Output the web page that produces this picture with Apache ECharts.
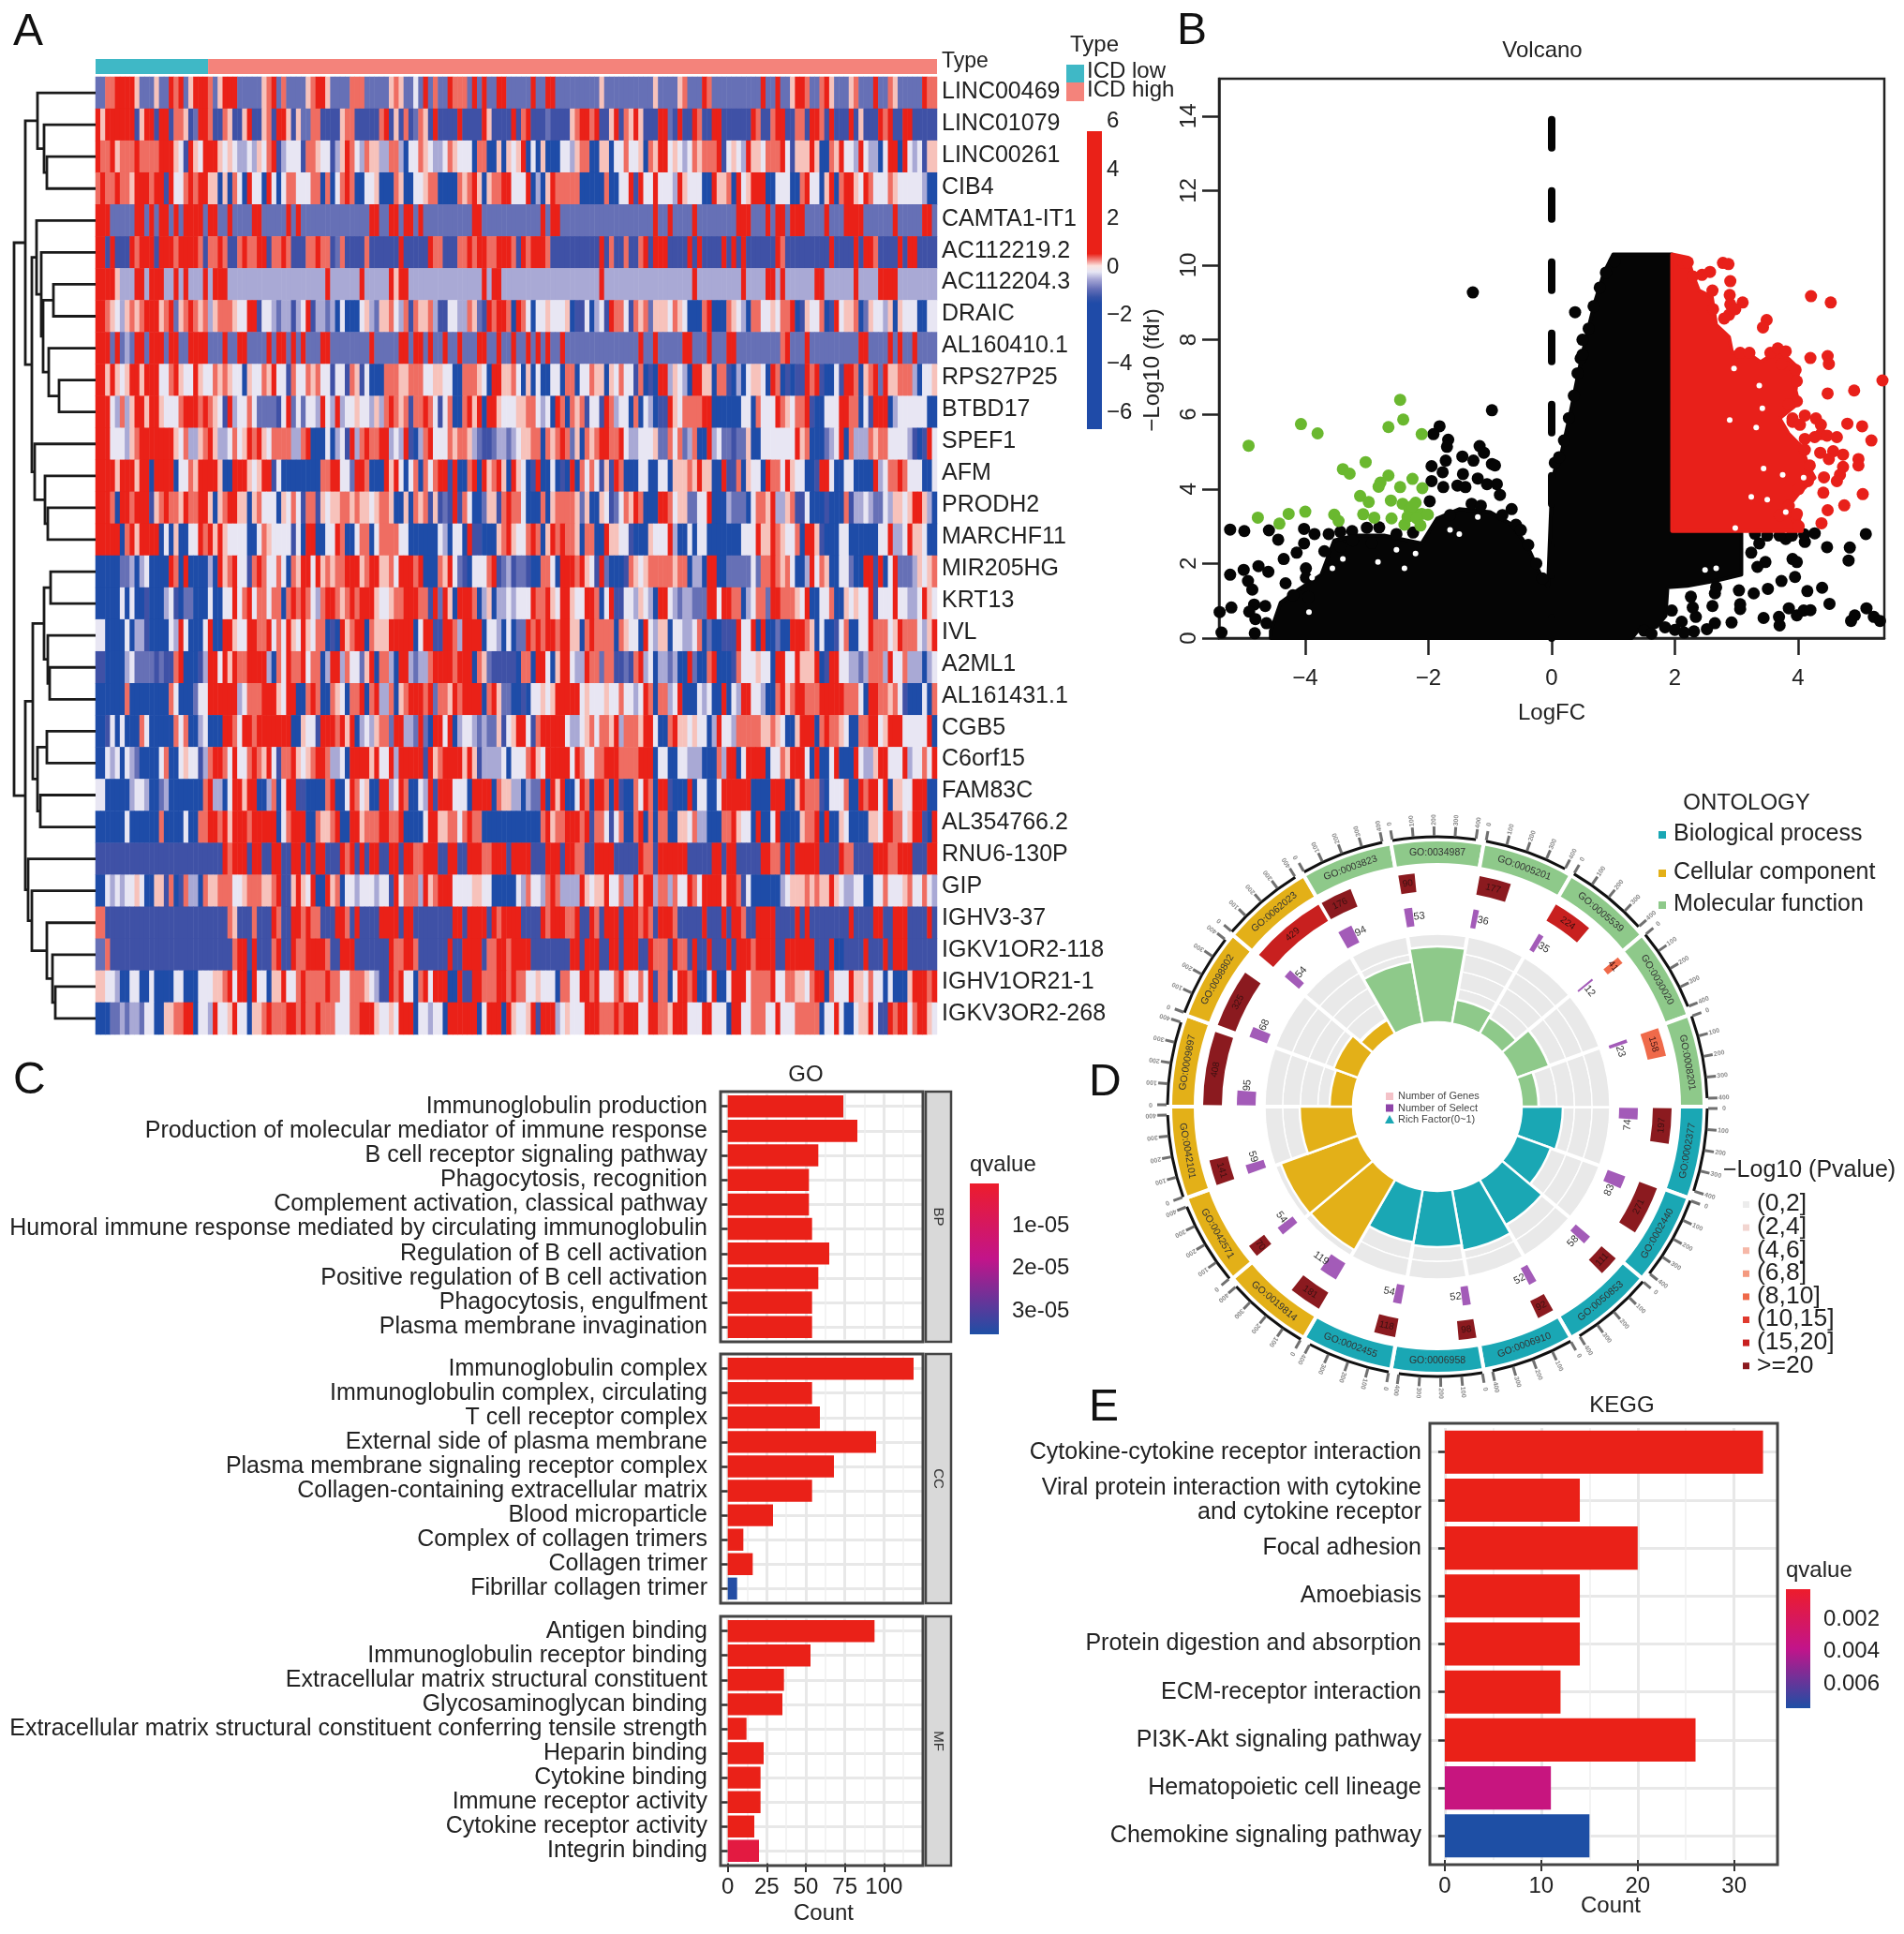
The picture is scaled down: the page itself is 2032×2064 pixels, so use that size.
<!DOCTYPE html>
<html><head><meta charset="utf-8">
<script src="https://cdn.jsdelivr.net/npm/echarts@6/dist/echarts.min.js"></script>
<style>html,body{margin:0;padding:0;background:#fff}#c{width:2032px;height:2064px}</style></head>
<body><div id="c"></div>
<script>
const FONT='"Liberation Sans",Arial,sans-serif';
/* ---------- A: heatmap ---------- */
const geneLabels=["LINC00469","LINC01079","LINC00261","CIB4","CAMTA1-IT1","AC112219.2","AC112204.3","DRAIC","AL160410.1","RPS27P25","BTBD17","SPEF1","AFM","PRODH2","MARCHF11","MIR205HG","KRT13","IVL","A2ML1","AL161431.1","CGB5","C6orf15","FAM83C","AL354766.2","RNU6-130P","GIP","IGHV3-37","IGKV1OR2-118","IGHV1OR21-1","IGKV3OR2-268"];
const cellCodes={R:3,r:.35,p:.12,w:-.2,l:-.5,m:-.9,d:-1.25,B:-3};
const cellColors={R:'#ea2118',r:'#ef6d62',p:'#f7c2bb',w:'#e8e6f3',l:'#a9a9d5',m:'#6670b6',d:'#3f51a6',B:'#1e4ca8'};
const heatRows=[
"mrrRRRRpmmmpmmRrRmpRRRrmpRRRmmmmmprRmrmmmmprRRpmmmmrrrmmm mmprpmmwmRmrmmRrrrmRmRmmRRmmmmmRmmRRmmmmmmmmmpmmmmmmmmmmpm mmmprmmmRrmmmmmmmmmmRmmRmmpRrmmrRpmmmprmmmRmmrpmmmmmRrr",
"RpRRRRRRdpRRdRRdrrpdmRRrddrpddpRddprdRRpdpmmrrddddprrddddd rRdpdrdmrpdRddddRddddRpddddRdrRdddmddddprRRrRddpRdrpRpdddd RmdRddRrddRRdddddRrddrRRddrdRRrdRdddRdpddRrRddRRddddd",
"RrrRprrrRrrrrRRRpwdRpwRRRpwpwllwlpwrRdlwwwdrrpwwdlpRrwlrpp lrrlBwwrpwlwrpwwwBrrBpBpwpRBwBpBBwwlprrBBpBwwrwwpBrp RwpwlwrprrRdwpwlRpwrrrRwdppRpBBrpRwlRwllBwRBRwlwdpp",
"rRrrRrrpRRRrRRdRwwrRrRRppBpBrwBRwwBRwBwrrwwwrrBrBwrRrBBwwp BBrpBBwwprrBBBrprRpBprrRRwwRBlBpRrrrrrBBBBrBBwwRdRwwR wwlRpwwBBRprBRwpRRBBwwBBrRwBpRBrRpwRrwwrpwwwwlBB",
"RRmmmmmRRmRmRRmRmRRRRmRRmmRmmmRRmmmmmRmRmmmmmmmmmmmmmmRR mRRmRRmRmmmmmmmmmmRRmmmmmmmmmmmRmRRmmmmmmmmmmmmmmmmmmmR mRmmmmRmmmmmmmRRRmmmRmRRmRRmmmmRmmmRRRRmmmmmRmmmmmRRm",
"RRdRdddRrRRRdRRRrRRRRrdrrRrddrRrrRRdrrRrdddrrRrrdmrddddrdd dddRddddRrrdddrRrRRrrRRrdRrRRrdddddddddRdrdrddrRdR RddddRdRdddRdRdRdddddRrddddddddRdddRdRRrdddRdRRdddd",
"RRRplllRRlRRRllRlRlllRlRRRllllllllllllllllllllRllllllRlll lRpRRlllllllllllllllRlRRllllllllllllllllllllRlllllllllll llllllRllllllllRllllRlRllllllRRlllllRllllRRRllllllll",
"RRrpwlprprRRRprRmprRrprlprrrpwwRRdwwlmlldlwRdllmlBwBBBwplm prwlrdrprlddwwlrpmdRrRrBRrwBwpwwwpBdwBlwdRrwdrprmp pwrpwBBrRBBrpwlBrwwpwrRBdpwrBdRwprBmpwlpBpwwBBww",
"RRmRmlmRRmRRRmRRmmRRRRmmmRmmRRmmmmRmRRmRmRmmmRRmmmmmmmmRm mmmRRmRRmRmmRmmRmmmRRmmRmmRmRmRmRmmRmmmmmmmmmmmmmmmRmmR mmmmRRmmmRmmRRmmmmmmmmrRmmmRmmmmmmmmmRRmmmRmRmmRmmmm",
"RRpRpwpRRpRRRwwrRpwwRpwwrprpwwBpwwrpRwwdrwwrprwwdwwdrpdwBB BrrrpprrrwwppwwBBrrrpwBRRpprwBpBwBBwwBrrBwwrppBpwrwwdrBdB RlpwlBRRpBrrdBlBwpwBRrBdBdRrRdBBwdRrBprRmRprrrlBwwp",
"RRwlrlpRRpRRpwwrRRRrRrpwdRlwrwmmmmdwRmwmwlRwlRlwwpwwlp lrRrprdrrRrwdwrBBrRpRBRRpwwwpprrwlwBRrBrprdwwdRrlwwBrBwlB dRpwrrrRRBBBBBwBrwwRrpwrRdBBwwRRrBwdRRBlwwwwwBB",
"RRwwwlprRRRRRRRpwrlprRpllwrwpRrRpwrrrllrRBBBwBlwdRlrRrr RlwlRdBlrRwwwrprrplmddmllmlwpprrBrprRrmpBrprRRrrRwllwwwp mrwrmlrBRlwmmdmpBBwwwwwwRprBBmlwRBrllrprrwwwldBdRw",
"RRRpRRRpRRBRRRRBwwrpRRRRpBBRRpwpRRdwBBBBBBBBrrRRwwmRRrBB BRpRwBwrBrwrRRdRBBrRBRprRpBRpwBdRBBwBdBRBrwrwdpdRrBBBwwBB wBpprpRpBBRdrBpwBRrwRpwBBdRwBBwBBBRlwrRrwwBBw",
"RRrBRRrRRRdprRrrpRrrRRpBprRRpBprwwwBpwrwdrrdpwpprrprppwp rpBBpBrprdpdmdRdrwBmppdrRrrwBBBrBprrrpmpBBpwdmwrpRrBBB RrwpmmwRBBlmmBwrpRlprdwBBdBBrdlwlmwlpwpRplB",
"RRRRBrRpRRRRBwBpBBwwRrRpRpwwwBBwrpwwwwdwBRRBBwwRrBBwrrBw rrrwwBBBBBwlBwwBRdBBBprRpwrRrBpRrRrpBrrBBRpwwdBBBpw wRlBwBwBBBBBBwwRpRrpwrBRpdBBwwBBBBwwRlwRpwBB",
"BBBBmmlBlwBBBBRrBRBBBBlBRprRwdrRrwwrwBrpRRwRprprrRRRprRR prwRRRrRBBrpRwmdBwwrRdmldmdBBrrwBRRrRpwdRmBBdrpwprr rrprrBlBRRBBmmmmwmrRrprwBlRwrpBwwmBBRdRBwRmmlpwpr",
"BBBBwBwBBdBBBlwdBmmBBBwBBwwRwrRwrrwrrBrRrRrwlrRRrprRrRRRp wprrRRRrdRmRpBRRrBlpBlwlwwwRrRpwRRpwRRrBwRdwwlpwlB RwlmlmmmRwRRrBlwrmRRrrpwRBwwrBpwpwRdwwRwwlwRpw",
"wBBBBwBlldBBBBwlRwBBBwRBBRRpwwRRrrRwrwRpwRpwrrBdBRprRRBrp pRRRRBwRRdRRrlRRRBwlBwBmRrRrRrRRpBrRrrrBrpwBRwl pBwwlwrBmBdddRwRBRBmBBRRrpBwBdwrBwwRrrwpRrrwlpR",
"dBBBBlwmmmmdmddrRBBBdlRRwRpRrRRRRlBrwRrrRwrrBlRRlrwwmpRB rlBRRlmlrRRRRrRRBrpmddddBrrBRwBpRRwlRrrmrrdmdrRlwB lmlBRmBrRBBdrwwpwBRRwRppRBdRwwlmlrrlRwrllBlw",
"BBBBBrBBBBBBBrwBBBmwwRRRRRlwrrrRRpwRRBBrRrBrpwBrrRBrR lrBprRRrRmrpRrRRRBrRpmBBdBwpwpRRRRwpwwpwwrwlwRrB rlwRBBwlwBRBwlRwwlBrRprRrrrRRRRrrwBRRrprwdBBwBr",
"BdwBwBBBrwBBBBrwrBBlwBBRRrwRRrRRRRRRBBpwwdRRrRpRBlwlp rmRRlmRmBRwRBlwlmlmpdwpRwdrRRRRwlwprwrpRlrrpRRw BrRpwpwBlRwlrrrrprpwBpRRBrRrpwBrrRwpRRwwwwRB",
"BwlwBwlmBBBwrBBwpwdlrRRrwRwrRrpRwdrRpwprRRrlwBRRRRpR wRlRRRRdRprRRRpRpdlllwBwwrRpwRRRRwRrwrrRRRrrrRRRB wBBwlllBBrlRBwRRRBwrpRRwBRBwRBBRwlpRRwwRlwrwR",
"wBBBBBlwlBBmlBBBBBBrRlBwRRpRRBlrBwRRdBBBBrRBwRrwpBB RlwRrBwlRdRRwwwBRRRBrpllBlmRBRpRBwRrBRrBRdBrwRrB RdBBRBwBBwRRRRBBBRRRBpRrrdBwwrBRrRwRBpwwRRBB",
"BBBBBwBBBBBrBBBBwBBrrRrRpRRRrRRRRBwrRRRBBrprRBBRRprrr RrrRBBBwRRprrwrRrBBBBBBBBBBrRprrRRrRdrwdwrBrRBrB rBBpwrlBBBrRpwBRBwRBBBprRBRBpwBBBpwRRrwpRdBR",
"ddddddddddddddddddddddddRrRRRdRRddRRdRRdRdRRdddRrRdRdRR dRRdRRrRRRddRddRRRrRRRdRRRdddRRdRRrrdRRRRddddRrrd RRRRddddRRdRddddRRrdRdRRRRdddRrdddRRRrRRRddRR",
"BwlwlwpwBBpdrBdrlBrpprrwwprrpprRdpRpwRBRprBwlwwwl wdRwrrlRprRRwwwwpwwBBBBwlrwlrRrlllRpwpRwwrlRpRRl rlrwRrwRRRpRrdwBBBBlwpprprpRpwlwwBwwrwwprwrwl",
"rddddddddddddddddddddddddrpdddrdddRrdRRrRrrdddRRrdRdddd RRRdRdddddddRdRRRdRrRRRdddRrRRrrRdRrdRRdRRrRrd RRrddddRddRdRrddRRRdddRdRddddddRdddRRdRRRdddRd",
"mrdddddddddddddddddddddddrRdRdddrRdRrrRRRRrdRRRddddd dRrrRrdddddRddRRRdrRRrRRRdddddddRdRRRdRRdRRddRr rdRrdRdRddRdRRrRRRdRRRRRddRBdddRddRdRRddddd",
"pwwlBBwBBwBBBwwBBBwwpprRwRBRwwBpRwwrRrrrRrrwrrrpwl dRrRwBrRwRRBBRdRRrrRRrRrwwpwwBrrwRRrRwwrRpwrwRd rBwRrRBwRBwRRwrrrRwrrpwrRBrwwRpwrwBwBBpRRrR",
"BBmlmlmwBBprrRBwlRwpRwBprRrrRrRrRrrwwrrRRp wpwRRBwwlwBRRRRRBwRRBRpwpRdRRlwpwwRRRrrRrRRwwRR rpRRwwRRwwBRwwrrwRwwrrrrBwRwBwpRwdRrRwrRpw"
];
const heatColumnsPerChunk=[58,57,57];
const typeCounts=[23,149];
const colorbarTicksA=[6,4,2,0,-2,-4,-6];
const colorbarStopsA=[[5.6,'#ea2118'],[.55,'#ea2118'],[.3,'#f2807a'],[.05,'#fbe3e0'],[-.2,'#e6e6f4'],[-.5,'#a8a8d6'],[-.9,'#6670b8'],[-1.25,'#3553a8'],[-1.5,'#1f4ba8'],[-6.68,'#1f4ba8']];
const dendroTree=[
 [[1,[2,[3,4,50],47],40],[[5,[6,[[7,8,57],[9,[10,11,63],52],46],44],39],[12,[13,[14,15,51],48],37],34],27],
 [[[[16,17,54],[18,[19,20,53],51],47],[[21,22,50],[23,24,43],40],35],[25,[26,[27,[28,[29,30,59],56],50],34],30],27],
 15];
/* ---------- B: volcano ---------- */
const greenPts=[[-4.92,5.16],[-4.07,5.74],[-3.8,5.49],[-2.46,6.39],[-2.41,5.86],[-2.65,5.66],[-2.11,5.47],[-3.39,4.53],[-3.28,4.41],[-3.02,4.72],[-2.65,4.36],[-2.78,4.17],[-2.81,4.06],[-2.26,4.27],[-2.46,4.05],[-2.1,4.02],[-3.11,3.81],[-2.97,3.65],[-2.61,3.69],[-2.42,3.6],[-2.21,3.63],[-2.31,3.46],[-2.24,3.38],[-2.11,3.33],[-2.01,3.31],[-4.77,3.23],[-4.27,3.33],[-4,3.39],[-4.42,3.07],[-3.53,3.31],[-3.46,3.14],[-3.06,3.32],[-2.88,3.23],[-2.6,3.21],[-2.39,3.04],[-2.34,3.25],[-2.19,3.21],[-2.13,3.02],[-2.26,3.54]];
const redPts=[[2.13,10.08],[2.78,10.06],[2.87,10.03],[2.57,9.82],[2.9,9.57],[2.61,9.32],[2.89,9.2],[3.1,9],[2.9,8.95],[2.88,8.67],[3.49,8.53],[3.43,8.33],[4.21,9.17],[4.53,9],[4.2,7.51],[4.48,7.56],[4.5,7.35],[5.37,6.91],[4.48,6.56],[4.91,6.64],[4.8,5.75],[5.04,5.68],[5.19,5.3],[3.91,5.8],[4.11,5.97],[4.29,5.89],[4.37,5.72],[4.37,5.47],[4.63,5.39],[4.47,5.43],[4.11,5.34],[4.36,4.97],[4.57,5.01],[4.73,4.92],[4.5,4.8],[4.73,4.59],[4.68,4.38],[4.63,4.21],[4.98,4.8],[4.98,4.63],[4.42,4.31],[4.41,3.9],[5.05,3.86],[4.75,3.56],[4.48,3.43],[4.38,3.08],[3.96,3.25],
[2.21,10.08],[2.29,9.7],[2.44,9.74],[2.62,8.82],[2.8,8.57],[2.98,8.82],[3.06,7.65],[3.21,7.65],[3.55,7.65],[3.67,7.77],[3.8,7.69],[3.73,7.35],[3.96,7.19],[3.98,6.89],[3.98,6.35],[3.85,6.27],[3.91,5.89],[4.03,5.72],[4.27,5.39],[4.11,5.05],[4.19,4.63],[4.16,4.21],[4.01,4],[3.85,3.54],[3.98,3.33],[4.01,3],[3.7,3.29]];
const blackPts=[[-1.28,9.27],[.38,8.74],[.5,8],[.47,7.5],[-.97,6.11],[-1.82,5.68],[-1.92,5.47],[-1.68,5.32],[-1.7,5.13],[-1.72,4.76],[-1.95,4.61],[-1.77,4.45],[-1.95,4.21],[-1.45,4.87],[-1.27,4.76],[-1.17,5.15],[-1.1,4.97],[-.97,4.67],[-.92,4.63],[-1.44,4.4],[-1.2,4.28],[-1.53,4.09],[-1.4,4.05],[-1.05,4.13],[-.89,4.13],[-.84,3.84],[-1.76,4.05],[-1.98,3.67],[-.65,3.46],[-.58,3.04],
[-5.22,2.91],[-4.99,2.87],[-4.59,2.89],[-4.44,2.64],[-4.02,2.93],[-3.85,2.79],[-3.62,2.79],[-3.43,2.85],[-3.24,2.87],[-3,2.96],[-2.8,2.97],[-2.52,2.79],[-2.25,2.83],[-4.02,2.54],[-4.14,2.29],[-4.35,2.12],[-3.69,2.33],[-4.76,1.93],[-4.6,1.78],[-5,1.83],[-5.22,1.7],[-4.93,1.53],[-4.86,1.3],[-4.32,1.47],[-5.2,.82],[-4.83,.9],[-4.91,.71],[-4.81,.51],[-4.63,.4],[-5.39,.7],[-4.82,.13],[-5.36,.15],[-4.65,.86],[-3.99,1.87],[-3.99,1.62],[-2.92,2.55],[-3.43,2.45],[-3.23,2.62],
[-1.65,3.3],[-1.3,3.6],[-1.15,3.55],[-.8,3.3],[-.5,2.9],[-.38,2.5],[-.25,2],[-.15,1.6],[-3.95,1.1],[-4.2,1.15],
[.05,4.7],[.12,4.85],[.2,5.3],[.28,5.9],[.36,6.5],[.42,7.1],[.5,7.6],[.6,8.3],[.68,8.9],[.78,9.4],[.88,9.8],[1.02,10.1],
[4.27,2.81],[4.11,2.58],[3.8,2.66],[5.1,2.79],[5.42,2.66],[4.47,2.44],[4.84,2.43],[4.82,2.08],[5.42,1.68],[3.91,2.12],[3.98,2.04],[3.47,2.04],[3.34,1.91],[3.37,2.54],[3.24,2.29],[3.73,1.53],[3.95,1.64],[3.51,1.32],[3.28,1.2],[3.04,1.28],[3.06,.91],[3.06,.78],[2.61,.86],[4.15,1.26],[4.39,1.35],[4.51,.92],[3.85,.8],[3.98,.61],[4.09,.74],[4.2,.75],[3.44,.54],[3.69,.57],[3.7,.34],[2.92,.42],[2.65,.4],[2.52,.24],[2.31,.18],[4.86,.46],[4.92,.61],[5.11,.8],[5.23,.57],[5.33,.46],[2.34,.57],[2.29,.82],[2.11,.44],[1.95,.74],[1.84,.29],[2.65,1.2],[2.26,1.11],[2.67,1.36],[3.3,2.8],[3.5,2.75],[3.7,2.75],[3.9,2.75],[4.1,2.78],[1.5,.2],[1.62,.12],[2,.22],[2.15,.15]];
const blackMass=[[-4.56,0],[-4.56,.19],[-4.4,.95],[-4.09,1.32],[-3.74,1.7],[-3.53,2.62],[-3.18,2.75],[-2.72,2.75],[-2.11,2.54],[-1.86,3.21],[-1.5,3.46],[-1,3.38],[-.64,3.04],[-.39,2.45],[-.18,1.7],[-.06,1.4],[0,3.9],[.05,4.5],[.15,4.9],[.3,6],[.42,7],[.55,8],[.7,9],[.85,9.8],[1,10.29],[1.95,10.29],[1.95,2.87],[3.08,2.87],[3.08,1.7],[2.7,1.55],[2.2,1.4],[1.88,1.36],[1.85,.6],[1.7,.3],[1.45,.3],[1.3,0]];
const redMass=[[1.955,10.29],[2.21,10.2],[2.29,9.74],[2.39,9.32],[2.6,9.15],[2.67,8.4],[2.88,8.07],[2.93,7.65],[3.14,7.69],[3.39,7.4],[3.7,7.73],[3.85,7.48],[4.01,7.23],[3.96,6.64],[4.01,6.31],[3.7,5.89],[3.85,5.47],[4.06,5.13],[4.16,4.63],[4.27,4.3],[4.01,3.88],[3.85,3.54],[4.01,3.21],[4.06,2.87],[1.955,2.87]];
const blackGaps=[[-2.52,2.37],[-2.21,2.27],[-2.82,2.04],[-3.39,2.12],[-3.56,1.87],[-3.89,1.62],[-3.94,.7],[-2.39,1.87],[-1.5,2.79],[-1.2,3.25],[-1.65,2.9],[2.67,1.87],[2.49,1.83]];
const redGaps=[[2.96,7.23],[3.42,6.16],[2.89,5.85],[3.32,5.65],[3.37,6.77],[3.5,3.71],[3.24,3.79],[3.75,4.38],[3.44,4.55],[4.09,4.3],[3.8,3.38],[2.98,2.95]];
const volcanoLine=[[0,13.9],[0,0]];
const volcanoXTicks=[-4,-2,0,2,4];
/* ---------- C: GO bars ---------- */
const bpTerms=["Immunoglobulin production","Production of molecular mediator of immune response","B cell receptor signaling pathway","Phagocytosis, recognition","Complement activation, classical pathway","Humoral immune response mediated by circulating immunoglobulin","Regulation of B cell activation","Positive regulation of B cell activation","Phagocytosis, engulfment","Plasma membrane invagination"];
const bpCounts=[74,83,58,52,52,54,65,58,54,54];
const bpQ=[0,0,0,0,0,0,0,0,0,0];
const ccTerms=["Immunoglobulin complex","Immunoglobulin complex, circulating","T cell receptor complex","External side of plasma membrane","Plasma membrane signaling receptor complex","Collagen-containing extracellular matrix","Blood microparticle","Complex of collagen trimers","Collagen trimer","Fibrillar collagen trimer"];
const ccCounts=[119,54,59,95,68,54,29,10,16,6];
const ccQ=[0,0,0,0,0,0,0,0,0,3.5e-5];
const mfTerms=["Antigen binding","Immunoglobulin receptor binding","Extracellular matrix structural constituent","Glycosaminoglycan binding","Extracellular matrix structural constituent conferring tensile strength","Heparin binding","Cytokine binding","Immune receptor activity","Cytokine receptor activity","Integrin binding"];
const mfCounts=[94,53,36,35,12,23,21,21,17,20];
const mfQ=[0,0,0,0,0,0,0,0,0,.4e-5];
const goTicks=[0,25,50,75,100];
const goMinor=[12.5,37.5,62.5,87.5,112.5];
const goQTicks=[1e-5,2e-5,3e-5];
const goQLabels=["1e-05","2e-05","3e-05"];
/* ---------- E: KEGG bars ---------- */
const keggTerms=["Cytokine-cytokine receptor interaction","Viral protein interaction with cytokine\nand cytokine receptor","Focal adhesion","Amoebiasis","Protein digestion and absorption","ECM-receptor interaction","PI3K-Akt signaling pathway","Hematopoietic cell lineage","Chemokine signaling pathway"];
const keggCounts=[33,14,20,14,14,12,26,11,15];
const keggQ=[0,0,0,0,0,0,0,.0033,.0075];
const keggTicks=[0,10,20,30];
const keggMinor=[5,15,25];
const keggQTicks=[.002,.004,.006];
/* ---------- D: circular GO plot ---------- */
const goIds=["GO:0002377","GO:0002440","GO:0050853","GO:0006910","GO:0006958","GO:0002455","GO:0019814","GO:0042571","GO:0042101","GO:0009897","GO:0098802","GO:0062023","GO:0003823","GO:0034987","GO:0005201","GO:0005539","GO:0030020","GO:0008201"];
const goOntology=[0,0,0,0,0,0,1,1,1,1,1,1,2,2,2,2,2,2];
const ontologyNames=["Biological process","Cellular component","Molecular function"];
const ontologyColors=['#1aa7b4','#e3b018','#8ec98a'];
const goGenes=[197,271,111,92,98,118,181,70,141,408,325,429,176,90,177,224,41,158];
const goSelect=[74,83,58,52,52,54,119,54,59,95,68,54,94,53,36,35,12,23];
const goPClass=[7,7,7,7,7,7,7,7,7,7,7,6,7,7,7,6,4,4];
const goRich=[134,129,146,156,150,147,177,178,147,115,118,107,157,171,116,110,127,108];
const pLabels=["(0,2]","(2,4]","(4,6]","(6,8]","(8,10]","(10,15]","(15,20]",">=20"];
const pColors=['#ececec','#f2d5d0','#f6b8a8','#f49a80','#ef6a4a','#e03a2e','#c8201f','#8b1a1f'];
const outerTicks=[0,100,200,300,400];
const miniLegend=[["Number of Genes",'#f4c2c8'],["Number of Select",'#8e44a8'],["Rich Factor(0~1)",'#1aa7b4']];

/* ---------- helpers ---------- */
const mix=(a,b,t)=>{const p=s=>[1,3,5].map(i=>parseInt(s.substr(i,2),16)),A=p(a),B=p(b);return 'rgb('+A.map((v,i)=>Math.round(v+(B[i]-v)*t)).join(',')+')';};
const qStops=['#ed1c2c','#c2148a','#1e4fa5'];
const barRed='#ea2118';
const qColor=(q,max)=>{if(q===0)return barRed;const t=Math.min(1,q/max)*2;return t<=1?mix(qStops[0],qStops[1],t):mix(qStops[1],qStops[2],t-1);};
const minus=v=>String(v).replace('-','\u2212');
const grids=[],xAxes=[],yAxes=[],series=[],gfx=[];
const txt=(x,y,t,o={})=>gfx.push({type:'text',x,y,rotation:o.rot||0,silent:true,z:o.z||20,style:{text:t,font:(o.w||'normal')+' '+(o.s||24)+'px '+FONT,fill:o.c||'#222',textAlign:o.a||'left',textVerticalAlign:'middle',align:o.a||'left',verticalAlign:'middle'}});
const rect=(x,y,w,h,fill,stroke,lw)=>gfx.push({type:'rect',silent:true,z:19,shape:{x,y,width:w,height:h},style:{fill,stroke:stroke||null,lineWidth:lw||0}});
const hiddenVal=(g,min,max,extra={})=>Object.assign({type:'value',gridIndex:g,min,max,show:false},extra);
function addGrid(l,t,w,h,extra){grids.push(Object.assign({left:l,top:t,width:w,height:h,containLabel:false},extra||{}));return grids.length-1;}
function colorbar(l,t,w,h,min,max,lo,hi,stops,ticks,labels,tickWhite){
  const g=addGrid(l,t,w,h);
  const xi=xAxes.length;xAxes.push(hiddenVal(g,0,1));
  const yi=yAxes.length;
  yAxes.push({type:'value',gridIndex:g,position:'right',min,max,axisLine:{show:false},splitLine:{show:false},
    axisTick:{show:tickWhite,inside:true,length:5,lineStyle:{color:'#fff',width:1.5},customValues:ticks},
    axisLabel:{margin:tickWhite?14:5,fontSize:24,fontFamily:FONT,color:'#222',customValues:ticks,formatter:v=>{const i=ticks.findIndex(k=>Math.abs(k-v)<1e-9);return labels?labels[i]:minus(v);}}});
  series.push({type:'custom',coordinateSystem:'cartesian2d',xAxisIndex:xi,yAxisIndex:yi,silent:true,z:2,data:[[lo,hi]],
    renderItem:(p,api)=>{const a=api.coord([0,hi]),b=api.coord([1,lo]);
      return {type:'rect',shape:{x:a[0],y:a[1],width:b[0]-a[0],height:b[1]-a[1]},
        style:{fill:new echarts.graphic.LinearGradient(0,0,0,1,stops)}};}});
}
function barPanel(l,t,w,h,terms,counts,qs,qMax,xMin,xMax,ticks,minor,showX,fs,labMargin){
  const pitch=h/(terms.length+.2),pad=.1*pitch;
  const g=addGrid(l,t+pad,w,terms.length*pitch);
  const xi=xAxes.length;
  xAxes.push({type:'value',gridIndex:g,min:xMin,max:xMax,axisLine:{show:false},
    axisTick:{show:showX,length:7+pad,lineStyle:{color:'#333',width:2},customValues:ticks},
    axisLabel:{show:showX,margin:11+pad,fontSize:24,fontFamily:FONT,color:'#222',customValues:ticks},
    splitLine:{show:true,lineStyle:{color:'#e8e8e8',width:3}}});
  xAxes.push({type:'value',gridIndex:g,min:xMin,max:xMax,axisLine:{show:false},
    axisTick:{show:false,customValues:minor},axisLabel:{show:false,customValues:minor},
    splitLine:{show:true,lineStyle:{color:'#efefef',width:1.5}}});
  const yi=yAxes.length;
  yAxes.push({type:'category',gridIndex:g,inverse:true,data:terms,axisLine:{show:false},
    axisTick:{show:true,alignWithLabel:true,length:7,lineStyle:{color:'#333',width:2.5}},
    axisLabel:{interval:0,margin:labMargin,fontSize:fs,fontFamily:FONT,color:'#222',lineHeight:fs*1.05,align:'right'},
    splitLine:{show:true,alignWithLabel:true,lineStyle:{color:'#e8e8e8',width:3}}});
  series.push({type:'bar',xAxisIndex:xi,yAxisIndex:yi,barWidth:'90%',silent:true,z:3,
    data:counts.map((c,i)=>({value:c,itemStyle:{color:qColor(qs[i],qMax)}}))});
  rect(l,t,w,h,'none','#444',3);
}

/* ---------- A ---------- */
const heatData=[];
const decoded=heatRows.map(r=>r.split(' ').map((ch,k)=>{const n=heatColumnsPerChunk[k];let s='';for(let i=0;i<n;i++)s+=ch[Math.floor(i*ch.length/n)];return s;}).join(''));
const nCols=heatColumnsPerChunk.reduce((a,b)=>a+b,0);
decoded.forEach((row,r)=>{[...row].forEach((c,i)=>heatData.push([i,r,cellCodes[c]]));});
const gH=addGrid(102,82,898,1022);
xAxes.push({type:'category',gridIndex:gH,data:Array.from({length:nCols},(_,i)=>i),show:false});
yAxes.push({type:'category',gridIndex:gH,inverse:true,data:geneLabels,show:false});
series.push({type:'heatmap',xAxisIndex:0,yAxisIndex:0,data:heatData,silent:true,progressive:0,itemStyle:{borderWidth:0}});
const visualMap=[{type:'piecewise',show:false,seriesIndex:0,dimension:2,
  pieces:Object.keys(cellCodes).map(k=>({value:cellCodes[k],color:cellColors[k]}))}];
const gL=addGrid(102,81,898,1018);
xAxes.push(hiddenVal(gL,0,1));
yAxes.push({type:'category',gridIndex:gL,position:'right',inverse:true,data:geneLabels,axisLine:{show:false},axisTick:{show:false},splitLine:{show:false},
  axisLabel:{interval:0,margin:5,fontSize:25,fontFamily:FONT,color:'#222'}});
const gD=addGrid(0,82,102,1022);
const dxi=xAxes.length;xAxes.push(hiddenVal(gD,0,102));
const dyi=yAxes.length;yAxes.push(hiddenVal(gD,0,30,{inverse:true}));
const dendroNodes=[];
(function walk(n){if(typeof n==='number')return {y:n-.5,h:102};const a=walk(n[0]),b=walk(n[1]);dendroNodes.push([a.h,a.y,b.h,b.y,n[2]]);return {y:(a.y+b.y)/2,h:n[2]};})(dendroTree);
series.push({type:'custom',coordinateSystem:'cartesian2d',xAxisIndex:dxi,yAxisIndex:dyi,silent:true,clip:false,data:dendroNodes,
  renderItem:(p,api)=>{const v=i=>api.value(i);const P=[[v(0),v(1)],[v(4),v(1)],[v(4),v(3)],[v(2),v(3)]].map(q=>api.coord(q));
    return {type:'polyline',shape:{points:P},style:{stroke:'#1a1a1a',lineWidth:2.8,fill:null}};}});
const gT=addGrid(102,63,898,16);
const txi=xAxes.length;xAxes.push(hiddenVal(gT,0,typeCounts[0]+typeCounts[1]));
const tyi=yAxes.length;yAxes.push({type:'category',gridIndex:gT,data:['Type'],show:false});
series.push({type:'bar',xAxisIndex:txi,yAxisIndex:tyi,stack:'t',barWidth:'100%',silent:true,data:[typeCounts[0]],itemStyle:{color:'#3fb8c6'}});
series.push({type:'bar',xAxisIndex:txi,yAxisIndex:tyi,stack:'t',barWidth:'100%',silent:true,data:[typeCounts[1]],itemStyle:{color:'#f4837b'}});
txt(1005,66,'Type',{s:23});
txt(1142,48,'Type');
rect(1138,69,19,19,'#3fb8c6');rect(1138,88,19,20,'#f4837b');
txt(1160,76,'ICD low');txt(1160,96,'ICD high');
const spanA=5.6+6.68;
colorbar(1160,124.4,16,333.6,-6.68,6.2,-6.68,5.6,colorbarStopsA.map(s=>({offset:(5.6-s[0])/spanA,color:s[1]})),colorbarTicksA,null,false);

/* ---------- B ---------- */
const gV=addGrid(1301,84,710,597,{show:true,borderColor:'#222',borderWidth:2.5});
const vxi=xAxes.length;
xAxes.push({type:'value',gridIndex:gV,min:-5.4,max:5.4,splitLine:{show:false},
  axisLine:{show:true,onZero:false,lineStyle:{color:'#222',width:2.5}},axisTick:{length:18,lineStyle:{color:'#222',width:2.5},customValues:volcanoXTicks},
  axisLabel:{margin:31,fontSize:24,fontFamily:FONT,color:'#222',customValues:volcanoXTicks,formatter:minus},
  name:'LogFC',nameLocation:'middle',nameGap:68,nameTextStyle:{fontSize:24,fontFamily:FONT,color:'#222'}});
const vyi=yAxes.length;
yAxes.push({type:'value',gridIndex:gV,min:0,max:15,interval:2,splitLine:{show:false},
  axisLine:{show:true,onZero:false,lineStyle:{color:'#222',width:2.5}},axisTick:{length:18,lineStyle:{color:'#222',width:2.5}},
  axisLabel:{margin:32,rotate:90,fontSize:24,fontFamily:FONT,color:'#222',showMaxLabel:false,formatter:v=>v>14?'':v,verticalAlign:'middle'}});
txt(1230,395,'\u2212Log10 (fdr)',{a:'center',rot:Math.PI/2});
const massSeries=(pts,fill,z,sw)=>({type:'custom',coordinateSystem:'cartesian2d',xAxisIndex:vxi,yAxisIndex:vyi,silent:true,z,data:pts,
  renderItem:(p,api)=>p.dataIndex===0?{type:'polygon',shape:{points:pts.map(q=>api.coord(q))},style:{fill,stroke:fill,lineWidth:sw,lineJoin:'round'}}:null});
series.push(massSeries(blackMass,'#050505',2,4));
const scat=(pts,color,z,size)=>({type:'scatter',xAxisIndex:vxi,yAxisIndex:vyi,silent:true,z,symbolSize:size||13,data:pts,itemStyle:{color,opacity:1}});
series.push(scat(blackPts,'#050505',3));
series.push(scat(blackGaps,'#ffffff',3,6));
series.push(massSeries(redMass,'#e8201a',4,4));
series.push(scat(redPts,'#e8201a',5));
series.push(scat(redGaps,'#ffffff',5,6));
series.push(scat(greenPts,'#6ab82f',6));
series.push({type:'line',xAxisIndex:vxi,yAxisIndex:vyi,silent:true,z:7,symbol:'none',data:volcanoLine,lineStyle:{color:'#050505',width:8,cap:'round',type:[30,46]}});
txt(1646,54,'Volcano',{a:'center'});

/* ---------- C ---------- */
barPanel(769,1165,216,267,bpTerms,bpCounts,bpQ,3.55e-5,-4.6,125,goTicks,goMinor,false,25,14);
barPanel(769,1445,216,266,ccTerms,ccCounts,ccQ,3.55e-5,-4.6,125,goTicks,goMinor,false,25,14);
barPanel(769,1725,216,266,mfTerms,mfCounts,mfQ,3.55e-5,-4.6,125,goTicks,goMinor,true,25,14);
[[1165,267,'BP'],[1445,266,'CC'],[1725,266,'MF']].forEach(s=>{rect(988,s[0],27,s[1],'#d9d9d9','#444',2.5);txt(1001.5,s[0]+s[1]/2,s[2],{a:'center',s:15,rot:-Math.PI/2,c:'#333'});});
txt(860,1147,'GO',{a:'center'});
txt(879,2042,'Count',{a:'center'});
txt(1035,1243,'qvalue');
colorbar(1035,1263,31,161,0,3.55e-5,0,3.55e-5,qStops.map((c,i)=>({offset:i/2,color:c})),goQTicks,goQLabels,true);
yAxes[yAxes.length-1].inverse=true;

/* ---------- E ---------- */
barPanel(1526,1519,371,471,keggTerms,keggCounts,keggQ,.0075,-1.55,34.5,keggTicks,keggMinor,true,25,9);
txt(1731,1500,'KEGG',{a:'center'});
txt(1719,2034,'Count',{a:'center'});
txt(1906,1676,'qvalue');
colorbar(1906,1696,26,127,.00012,.0075,.00012,.0075,qStops.map((c,i)=>({offset:i/2,color:c})),keggQTicks,keggQTicks.map(String),true);
yAxes[yAxes.length-1].inverse=true;

/* ---------- D ---------- */
const polar=[{center:[1534,1181],radius:320}];
const angleAxis=[{type:'value',polarIndex:0,min:0,max:360,startAngle:0,clockwise:true,show:false}];
const radiusAxis=[{type:'value',polarIndex:0,min:0,max:320,show:false}];
const rad=d=>d*Math.PI/180;
const SEC=20, UNIT=19.6/440;
const sector=(api,p,r0,r,a0,a1,fill,stroke,lw)=>{const c=p.coordSys;return {type:'sector',shape:{cx:c.cx,cy:c.cy,r0,r,startAngle:rad(a0),endAngle:rad(a1),clockwise:true},style:{fill,stroke:stroke||null,lineWidth:lw||0}};};
const polarSeries=(data,fn,z)=>({type:'custom',coordinateSystem:'polar',polarIndex:0,silent:true,z:z||3,clip:false,data,renderItem:fn});
const idx=goIds.map((_,i)=>i);
const tangent=a=>{const t=((a%360)+360)%360;return rad(t<180?90-t:270-t);};
const at=(p,r,a)=>[p.coordSys.cx+r*Math.cos(rad(a)),p.coordSys.cy+r*Math.sin(rad(a))];
const ringsBands=[0,1,2,3,4];
series.push(polarSeries(idx.map(i=>[i]),(p,api)=>{const i=api.value(0);
  return {type:'group',children:ringsBands.map(k=>sector(api,p,90+k*94/5,90+(k+1)*94/5,i*SEC,(i+1)*SEC,'#e9e9e9','#fff',1.4)).concat([
    {type:'line',shape:{x1:at(p,90,i*SEC)[0],y1:at(p,90,i*SEC)[1],x2:at(p,186,i*SEC)[0],y2:at(p,186,i*SEC)[1]},style:{stroke:'#fff',lineWidth:4}}])};},2));
series.push(polarSeries(goRich.map((r,i)=>[i,r]),(p,api)=>{const i=api.value(0);
  return sector(api,p,90,api.value(1),i*SEC,(i+1)*SEC,ontologyColors[goOntology[i]],'#fff',2.5);},3));
series.push(polarSeries(goGenes.map((g,i)=>[i,g]),(p,api)=>{const i=api.value(0),g=api.value(1),a0=i*SEC+.4,a1=a0+g*UNIT,m=(a0+a1)/2,q=at(p,240,m);
  return {type:'group',children:[sector(api,p,230,250,a0,a1,pColors[goPClass[i]]),
    {type:'text',x:q[0],y:q[1],rotation:tangent(m),style:{text:String(g),font:'10px '+FONT,fill:'#3a1010',align:'center',verticalAlign:'middle',textAlign:'center',textVerticalAlign:'middle'}}]};},4));
series.push(polarSeries(goSelect.map((g,i)=>[i,g]),(p,api)=>{const i=api.value(0),g=api.value(1),a0=i*SEC+.4,a1=a0+g*UNIT,q=at(p,204,a1+1.8);
  return {type:'group',children:[sector(api,p,194,214,a0,a1,'#a35bb8'),
    {type:'text',x:q[0],y:q[1],rotation:tangent(a1),style:{text:String(g),font:'11px '+FONT,fill:'#333',align:'center',verticalAlign:'middle',textAlign:'center',textVerticalAlign:'middle'}}]};},4));
series.push(polarSeries(idx.map(i=>[i]),(p,api)=>{const i=api.value(0),a0=i*SEC,m=a0+SEC/2,q=at(p,271,m);
  const kids=[sector(api,p,258,285,a0,a0+SEC,ontologyColors[goOntology[i]],'#fff',4),
    {type:'text',x:q[0],y:q[1],rotation:tangent(m),style:{text:goIds[i],font:'10.5px '+FONT,fill:'#333',align:'center',verticalAlign:'middle',textAlign:'center',textVerticalAlign:'middle'}},
    sector(api,p,286.5,289.5,a0+.4,a0+.4+400*UNIT,'#111')];
  outerTicks.forEach(v=>{const a=a0+.4+v*UNIT,b=at(p,289,a),c=at(p,299,a),d=at(p,306,a);
    kids.push({type:'line',shape:{x1:b[0],y1:b[1],x2:c[0],y2:c[1]},style:{stroke:'#707070',lineWidth:3}});
    kids.push({type:'text',x:d[0],y:d[1],rotation:-rad(a),style:{text:String(v),font:'bold 7px '+FONT,fill:'#8a8a8a',align:'center',verticalAlign:'middle',textAlign:'center',textVerticalAlign:'middle'}});});
  return {type:'group',children:kids};},5));
txt(1864,857,'ONTOLOGY',{a:'center'});
ontologyNames.forEach((n,i)=>{const y=[890,931,965][i];rect(1770,y-3,8,8,ontologyColors[i]);txt(1786,y,n,{s:25});});
txt(1839,1249,'\u2212Log10 (Pvalue)',{s:25});
pLabels.forEach((n,i)=>{const y=1285+i*24.6;rect(1860,y-3,7,7,pColors[i]);txt(1875,y,n,{s:26.5});});
miniLegend.forEach((m,i)=>{const y=1170+i*12.5;
  if(i<2)rect(1479,y-4,8,8,m[1]);
  else gfx.push({type:'polygon',silent:true,z:19,shape:{points:[[1483,y-5],[1488,y+4],[1478,y+4]]},style:{fill:m[1]}});
  txt(1492,y,m[0],{s:11,c:'#444'});});
[['A',14,35],['B',1256,34],['C',14,1154],['D',1162,1156],['E',1162,1503]].forEach(l=>txt(l[1],l[2],l[0],{s:48,c:'#111'}));

const chart=echarts.init(document.getElementById('c'),null,{renderer:'canvas',width:2032,height:2064});
chart.setOption({animation:false,backgroundColor:'#fff',textStyle:{fontFamily:FONT},grid:grids,xAxis:xAxes,yAxis:yAxes,polar,angleAxis,radiusAxis,visualMap,series,graphic:{elements:gfx}});
</script></body></html>
